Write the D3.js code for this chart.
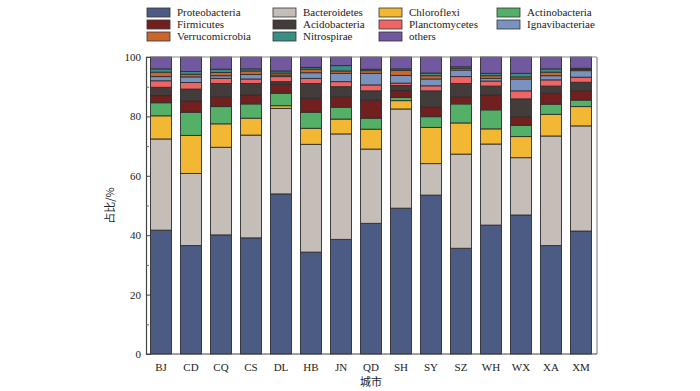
<!DOCTYPE html>
<html><head><meta charset="utf-8">
<script src="https://cdn.jsdelivr.net/npm/d3@7"></script>
<style>body{margin:0;background:#fff}svg{display:block}</style>
</head><body>
<svg id="c" width="700" height="391"></svg>
<script>
const cities = ["BJ","CD","CQ","CS","DL","HB","JN","QD","SH","SY","SZ","WH","WX","XA","XM"];
const seriesNames = ["Proteobacteria","Bacteroidetes","Chloroflexi","Actinobacteria","Firmicutes","Acidobacteria","Planctomycetes","Ignavibacteriae","Verrucomicrobia","Nitrospirae","others"];
const Proteobacteria  = [41.7,36.5,40.1,39.1,53.9,34.3,38.6,44.0,49.1,53.5,35.6,43.4,46.8,36.5,41.4];
const Bacteroidetes   = [30.7,24.3,29.5,34.6,28.8,36.3,35.5,25.0,33.4,10.6,31.7,27.3,19.3,36.9,35.4];
const Chloroflexi     = [7.8,12.8,7.9,5.7,0.9,5.4,5.0,6.7,2.8,12.2,10.5,5.1,7.1,7.3,6.5];
const Actinobacteria  = [4.4,7.8,5.8,4.8,4.2,5.4,4.0,3.7,1.1,3.6,6.4,6.4,3.8,3.4,2.2];
const Firmicutes      = [2.4,3.8,3.3,3.0,3.0,4.7,3.5,6.1,2.3,3.2,2.4,5.0,2.9,3.7,3.1];
const Acidobacteria   = [2.8,4.0,4.5,3.9,0.9,5.0,3.4,3.1,1.7,5.5,4.5,3.0,6.0,2.4,2.9];
const Planctomycetes  = [2.2,2.2,1.7,1.5,1.7,1.7,1.7,2.0,0.8,1.7,2.3,1.7,2.7,2.1,1.7];
const Ignavibacteriae = [1.4,1.9,0.9,1.5,0.5,1.9,2.8,3.9,2.6,2.3,2.2,0.9,4.0,1.4,2.2];
const Verrucomicrobia = [1.5,0.9,1.1,1.2,0.7,1.2,0.8,0.9,1.7,1.1,0.6,0.9,0.7,1.2,0.4];
const Nitrospirae     = [1.1,0.9,1.1,0.7,0.7,0.6,1.8,0.5,0.5,0.9,0.5,0.8,1.2,1.1,0.4];
const others          = [4.0,4.9,4.1,4.0,4.7,3.5,2.9,4.1,4.0,5.4,3.3,5.5,5.5,4.0,3.8];
const colors = ["#4b5b83","#c5bdb8","#f2b733","#53b066","#72201f","#433c3a","#ef6464","#7a92bf","#c8662b","#3a8e84","#71589f"];
const yTicks = [0,20,40,60,80,100];

const seriesValues = [Proteobacteria,Bacteroidetes,Chloroflexi,Actinobacteria,Firmicutes,Acidobacteria,Planctomycetes,Ignavibacteriae,Verrucomicrobia,Nitrospirae,others];
const table = cities.map((c,i)=>{const o={city:c}; seriesNames.forEach((s,j)=>o[s]=seriesValues[j][i]); return o;});

const svg = d3.select("#c");
const L=146, R=596, T=57, B=354;
const x = d3.scaleBand().domain(cities).range([L,R]).paddingInner(0.3).paddingOuter(0.15);
const y = d3.scaleLinear().domain([0,100]).range([B,T]);
const color = d3.scaleOrdinal().domain(seriesNames).range(colors);
const stack = d3.stack().keys(seriesNames)(table);

const g = svg.append("g");
stack.forEach(layer=>{
  g.append("g").attr("fill",color(layer.key))
   .selectAll("rect").data(layer).join("rect")
   .attr("x",d=>x(d.data.city)).attr("width",x.bandwidth())
   .attr("y",d=>y(d[1])).attr("height",d=>y(d[0])-y(d[1]))
   .attr("stroke","#2e2e2e").attr("stroke-width",0.9);
});

// frame
svg.append("line").attr("x1",L).attr("x2",R+1).attr("y1",T).attr("y2",T).attr("stroke","#8a8a8a").attr("stroke-width",1.2);
svg.append("line").attr("x1",R+1).attr("x2",R+1).attr("y1",T).attr("y2",B).attr("stroke","#8a8a8a").attr("stroke-width",1.2);

// y axis
const ya = svg.append("g").attr("transform",`translate(${L},0)`)
  .call(d3.axisRight(y).tickValues(yTicks).tickSize(5).tickFormat(""));
ya.select(".domain").attr("stroke","#444").attr("stroke-width",1.2);
ya.selectAll(".tick line").attr("stroke","#444");
svg.append("g").attr("transform",`translate(${L},0)`)
  .call(d3.axisRight(y).tickValues([10,30,50,70,90]).tickSize(3).tickFormat(""))
  .call(a=>a.select(".domain").remove()).selectAll("line").attr("stroke","#666");
svg.append("g").selectAll("text").data(yTicks).join("text")
  .attr("x",L-5).attr("y",d=>y(d)+4).attr("text-anchor","end")
  .attr("font-family","Liberation Serif").attr("font-size",11).attr("fill","#222").text(d=>d);

// x axis
const xa = svg.append("g").attr("transform",`translate(0,${B})`)
  .call(d3.axisBottom(x).tickSize(0).tickPadding(9));
xa.select(".domain").attr("stroke","#444").attr("stroke-width",1.2).attr("d",`M${L},0H${R+1}`);
xa.selectAll("text").attr("font-family","Liberation Serif").attr("font-size",11).attr("fill","#222");

svg.append("text").attr("x",(L+R)/2).attr("y",386).attr("text-anchor","middle")
  .attr("font-family","Noto Sans CJK SC").attr("font-size",11).attr("fill","#222").text("城市");
svg.append("text").attr("transform",`translate(114,${(T+B)/2}) rotate(-90)`).attr("text-anchor","middle")
  .attr("font-family","Noto Sans CJK SC").attr("font-size",11).attr("fill","#222").text("占比/%");

// legend
const colX = [147,273,379,497];
const leg = svg.append("g");
seriesNames.forEach((s,i)=>{
  const c = i%4, r = Math.floor(i/4);
  const gx = colX[c], gy = 8 + r*12;
  leg.append("rect").attr("x",gx).attr("y",gy).attr("width",23).attr("height",9)
    .attr("fill",color(s)).attr("stroke","#333").attr("stroke-width",0.8);
  leg.append("text").attr("x",gx+30).attr("y",gy+8).attr("font-family","Liberation Serif")
    .attr("font-size",11).attr("fill","#222").text(s);
});
</script>
</body></html>
